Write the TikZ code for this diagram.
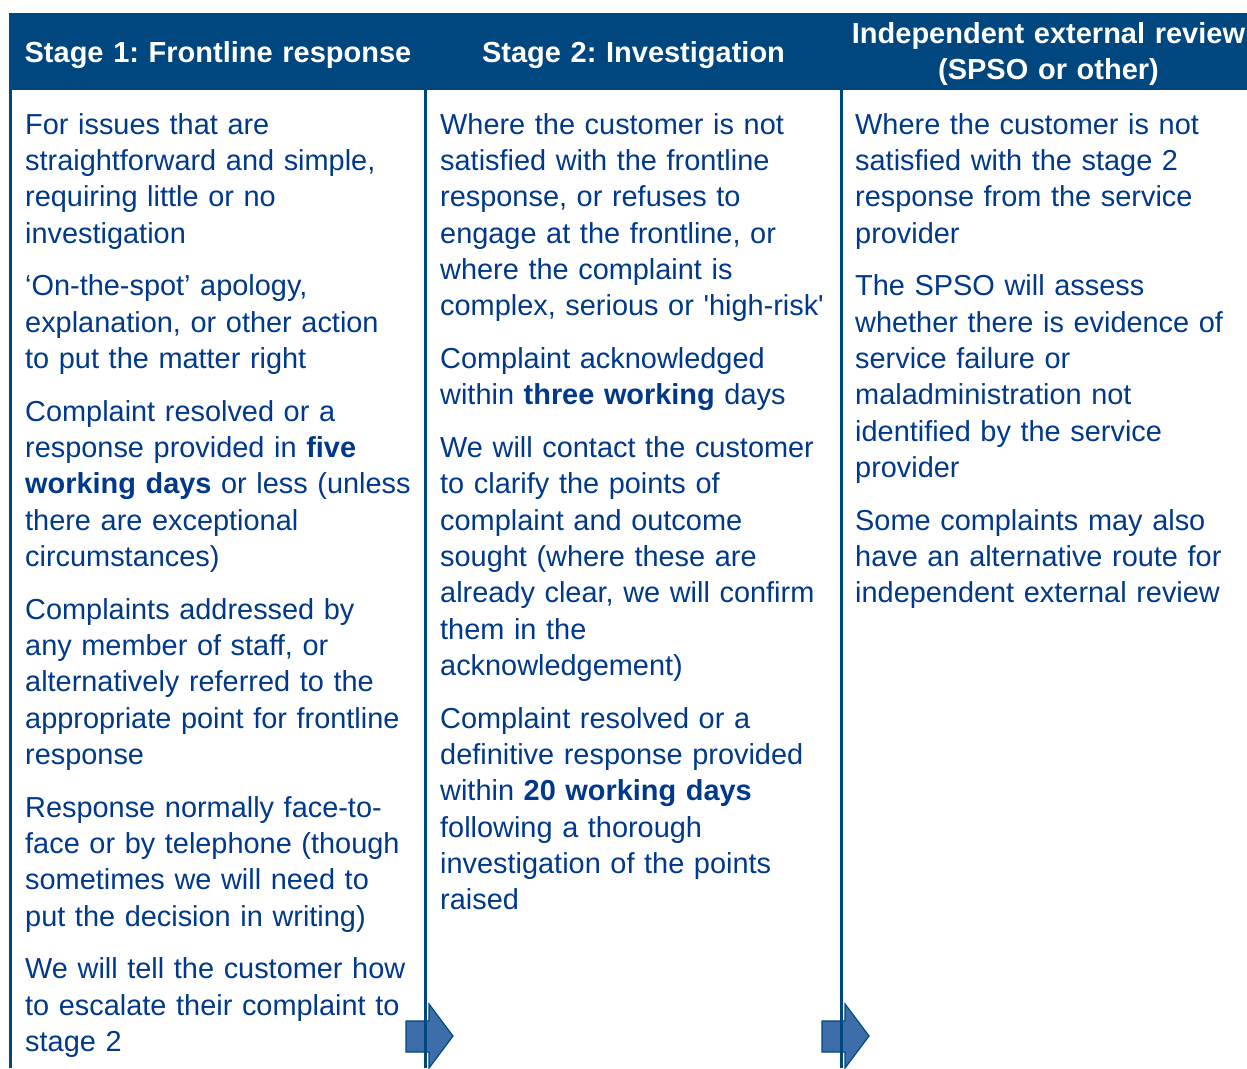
\documentclass[tikz,border=0pt]{standalone}
\usepackage{fontspec}
\setmainfont{Liberation Sans}
\frenchspacing

\definecolor{hdrblue}{RGB}{0,70,127}
\definecolor{txtblue}{RGB}{0,56,140}
\definecolor{arrowfill}{RGB}{62,110,170}

\newcommand{\paragap}{\\[16.3pt]}

\tikzset{
	colhead/.style={font=\fontsize{29}{36}\selectfont\bfseries, text=white,
		text width=420pt, align=center, inner sep=0pt, anchor=base},
	coltext/.style={font=\fontsize{28.9}{36.35}\selectfont, text=txtblue,
		text width=400pt, align=left, inner sep=0pt, anchor=base west},
	stagearrow/.style={fill=arrowfill, draw=hdrblue, line width=1.2pt},
	divider/.style={draw=hdrblue, line width=3pt}
}

\begin{document}
\begin{tikzpicture}[x=1pt, y=-1pt]
			
			\useasboundingbox (0,0) rectangle (1247,1068);
			
			% header bar
			\fill[hdrblue] (9,13) rectangle (1265,90);
			
			\node[colhead] (head1) at (218,62) {Stage 1: Frontline response};
			\node[colhead] (head2) at (633.5,62) {Stage 2: Investigation};
			\node[colhead] (head3) at (1048.5,43) {Independent external review\\(SPSO or other)};
			
			% arrows between the stages
			\foreach \s in {0,416}{
				\begin{scope}[shift={(\s,0)}]
					\draw[stagearrow] (406,1021) -- (429,1021) -- (429,1004) -- (453,1036)
					-- (429,1068) -- (429,1052) -- (406,1052) -- cycle;
				\end{scope}
			}
			
			\foreach \x in {10,425,841}{
				\draw[divider] (\x,90) -- (\x,1068);
			}
			
			\node[coltext] (text1) at (25,134) {For issues that are\\
				straightforward and simple,\\
				requiring little or no\\
				investigation\paragap
				‘On-the-spot’ apology,\\
				explanation, or other action\\
				to put the matter right\paragap
				Complaint resolved or a\\
				response provided in \textbf{five}\\
				\textbf{working days} or less (unless\\
				there are exceptional\\
				circumstances)\paragap
				Complaints addressed by\\
				any member of staff, or\\
				alternatively referred to the\\
				appropriate point for frontline\\
				response\paragap
				Response normally face-to-\\
				face or by telephone (though\\
				sometimes we will need to\\
				put the decision in writing)\paragap
				We will tell the customer how\\
				to escalate their complaint to\\
				stage 2};
			
			\node[coltext] (text2) at (440,134) {Where the customer is not\\
				satisfied with the frontline\\
				response, or refuses to\\
				engage at the frontline, or\\
				where the complaint is\\
				complex, serious or \textquotesingle high-risk\textquotesingle\paragap
				Complaint acknowledged\\
				within \textbf{three working} days\paragap
				We will contact the customer\\
				to clarify the points of\\
				complaint and outcome\\
				sought (where these are\\
				already clear, we will confirm\\
				them in the\\
				acknowledgement)\paragap
				Complaint resolved or a\\
				definitive response provided\\
				within \textbf{20 working days}\\
				following a thorough\\
				investigation of the points\\
				raised};
			
			\node[coltext] (text3) at (855,134) {Where the customer is not\\
				satisfied with the stage 2\\
				response from the service\\
				provider\paragap
				The SPSO will assess\\
				whether there is evidence of\\
				service failure or\\
				maladministration not\\
				identified by the service\\
				provider\paragap
				Some complaints may also\\
				have an alternative route for\\
				independent external review};
			
		\end{tikzpicture}
\end{document}
